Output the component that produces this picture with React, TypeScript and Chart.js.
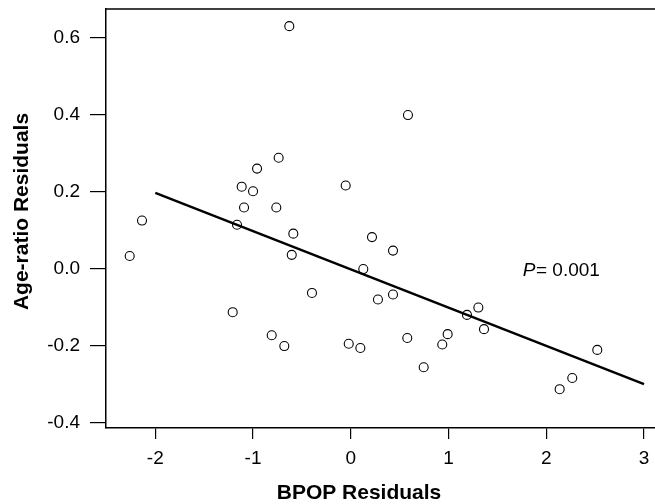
import React, { useEffect, useRef } from "react";
import { Chart, registerables } from "chart.js";

Chart.register(...registerables);

const bpopResiduals = [
  -0.629, -0.738, -0.959, -1.116, -1.0, -1.092, -0.762, -2.136, -1.164, -0.588,
  0.585, -0.052, 0.217, 0.432, -2.262, -0.604, -0.397, -1.208, -0.809, -0.68,
  0.128, 0.278, 0.432, 1.305, 1.189, 1.363, 0.991, 0.578, 0.936, -0.021,
  0.098, 0.746, 2.522, 2.266, 2.137,
];
const ageRatioResiduals = [
  0.63, 0.288, 0.26, 0.213, 0.201, 0.159, 0.159, 0.125, 0.114, 0.091,
  0.399, 0.216, 0.082, 0.047, 0.033, 0.036, -0.063, -0.113, -0.173, -0.201,
  -0.001, -0.08, -0.067, -0.101, -0.12, -0.157, -0.17, -0.18, -0.197, -0.195,
  -0.206, -0.256, -0.211, -0.284, -0.313,
];
const fitX = [-2, 3];
const fitY = [0.197, -0.3];
const xTicks = [-2, -1, 0, 1, 2, 3];
const yTicks = [-0.4, -0.2, 0, 0.2, 0.4, 0.6];
const xTitle = "BPOP Residuals";
const yTitle = "Age-ratio Residuals";
const pLabel = "P";
const pValueText = "= 0.001";

const FONT = "'Liberation Sans', Arial, Helvetica, sans-serif";

const textPlugin = {
  id: "rtext",
  afterDraw(chart: any) {
    const ctx = chart.ctx;
    const a = chart.chartArea;
    ctx.save();
    ctx.strokeStyle = "#000";
    ctx.lineWidth = 1.5;
    ctx.beginPath();
    ctx.moveTo(a.left, a.top);
    ctx.lineTo(a.right, a.top);
    ctx.stroke();

    ctx.fillStyle = "#000";
    ctx.font = `bold 21px ${FONT}`;
    ctx.textAlign = "center";
    ctx.textBaseline = "alphabetic";
    ctx.fillText(xTitle, 359, 499);
    ctx.save();
    ctx.translate(28.3, 211.5);
    ctx.rotate(-Math.PI / 2);
    ctx.fillText(yTitle, 0, 0);
    ctx.restore();
    ctx.textAlign = "left";
    ctx.font = `italic 19px ${FONT}`;
    ctx.fillText(pLabel, 522.7, 276);
    ctx.font = `19px ${FONT}`;
    ctx.fillText(pValueText, 536, 276);
    ctx.restore();
  },
};

export default function App() {
  const ref = useRef<HTMLCanvasElement | null>(null);
  useEffect(() => {
    if (!ref.current) return;
    const points = bpopResiduals.map((x, i) => ({ x, y: ageRatioResiduals[i] }));
    const fit = fitX.map((x, i) => ({ x, y: fitY[i] }));
    const chart = new Chart(ref.current, {
      type: "scatter",
      data: {
        datasets: [
          {
            type: "line",
            data: fit,
            borderColor: "#000",
            borderWidth: 2.4,
            pointRadius: 0,
            showLine: true,
            fill: false,
          } as any,
          {
            data: points,
            pointRadius: 4.5,
            pointBorderWidth: 1.1,
            borderColor: "#000",
            backgroundColor: "rgba(255,255,255,0)",
            pointStyle: "circle",
          },
        ],
      },
      plugins: [textPlugin],
      options: {
        animation: false,
        responsive: false,
        devicePixelRatio: 1,
        layout: { autoPadding: false, padding: { top: 9, left: 0, right: 0, bottom: 0 } },
        plugins: { legend: { display: false }, tooltip: { enabled: false } },
        scales: {
          x: {
            type: "linear",
            min: -2.5044,
            max: 3.1125,
            afterBuildTicks: (s: any) => {
              s.ticks = xTicks.map((v) => ({ value: v }));
            },
            afterFit: (s: any) => {
              s.height = 76;
              s.paddingLeft = 0;
              s.paddingRight = 0;
              s.paddingTop = 0;
              s.paddingBottom = 0;
            },
            ticks: {
              color: "#000",
              font: { family: FONT, size: 19 },
              padding: 8,
              maxRotation: 0,
              autoSkip: false,
              callback: (v: any) => String(v),
            },
            grid: {
              display: true,
              drawOnChartArea: false,
              drawTicks: true,
              tickLength: 11,
              color: "#000",
              lineWidth: 1.2,
            },
            border: { display: true, color: "#000", width: 1.5 },
          },
          y: {
            type: "linear",
            min: -0.4138,
            max: 0.6745,
            afterBuildTicks: (s: any) => {
              s.ticks = yTicks.map((v) => ({ value: v }));
            },
            afterFit: (s: any) => {
              s.width = 106;
              s.paddingLeft = 0;
              s.paddingRight = 0;
              s.paddingTop = 0;
              s.paddingBottom = 0;
            },
            ticks: {
              color: "#000",
              font: { family: FONT, size: 19 },
              padding: 10,
              autoSkip: false,
              callback: (v: any) => Number(v).toFixed(1),
            },
            grid: {
              display: true,
              drawOnChartArea: false,
              drawTicks: true,
              tickLength: 16,
              color: "#000",
              lineWidth: 1.2,
            },
            border: { display: true, color: "#000", width: 1.5 },
          },
        },
      },
    });
    return () => chart.destroy();
  }, []);
  return (
    <div style={{ position: "fixed", left: 0, top: 0, width: 655, height: 504, background: "#fff" }}>
      <canvas ref={ref} width={655} height={504} style={{ display: "block" }} />
    </div>
  );
}
